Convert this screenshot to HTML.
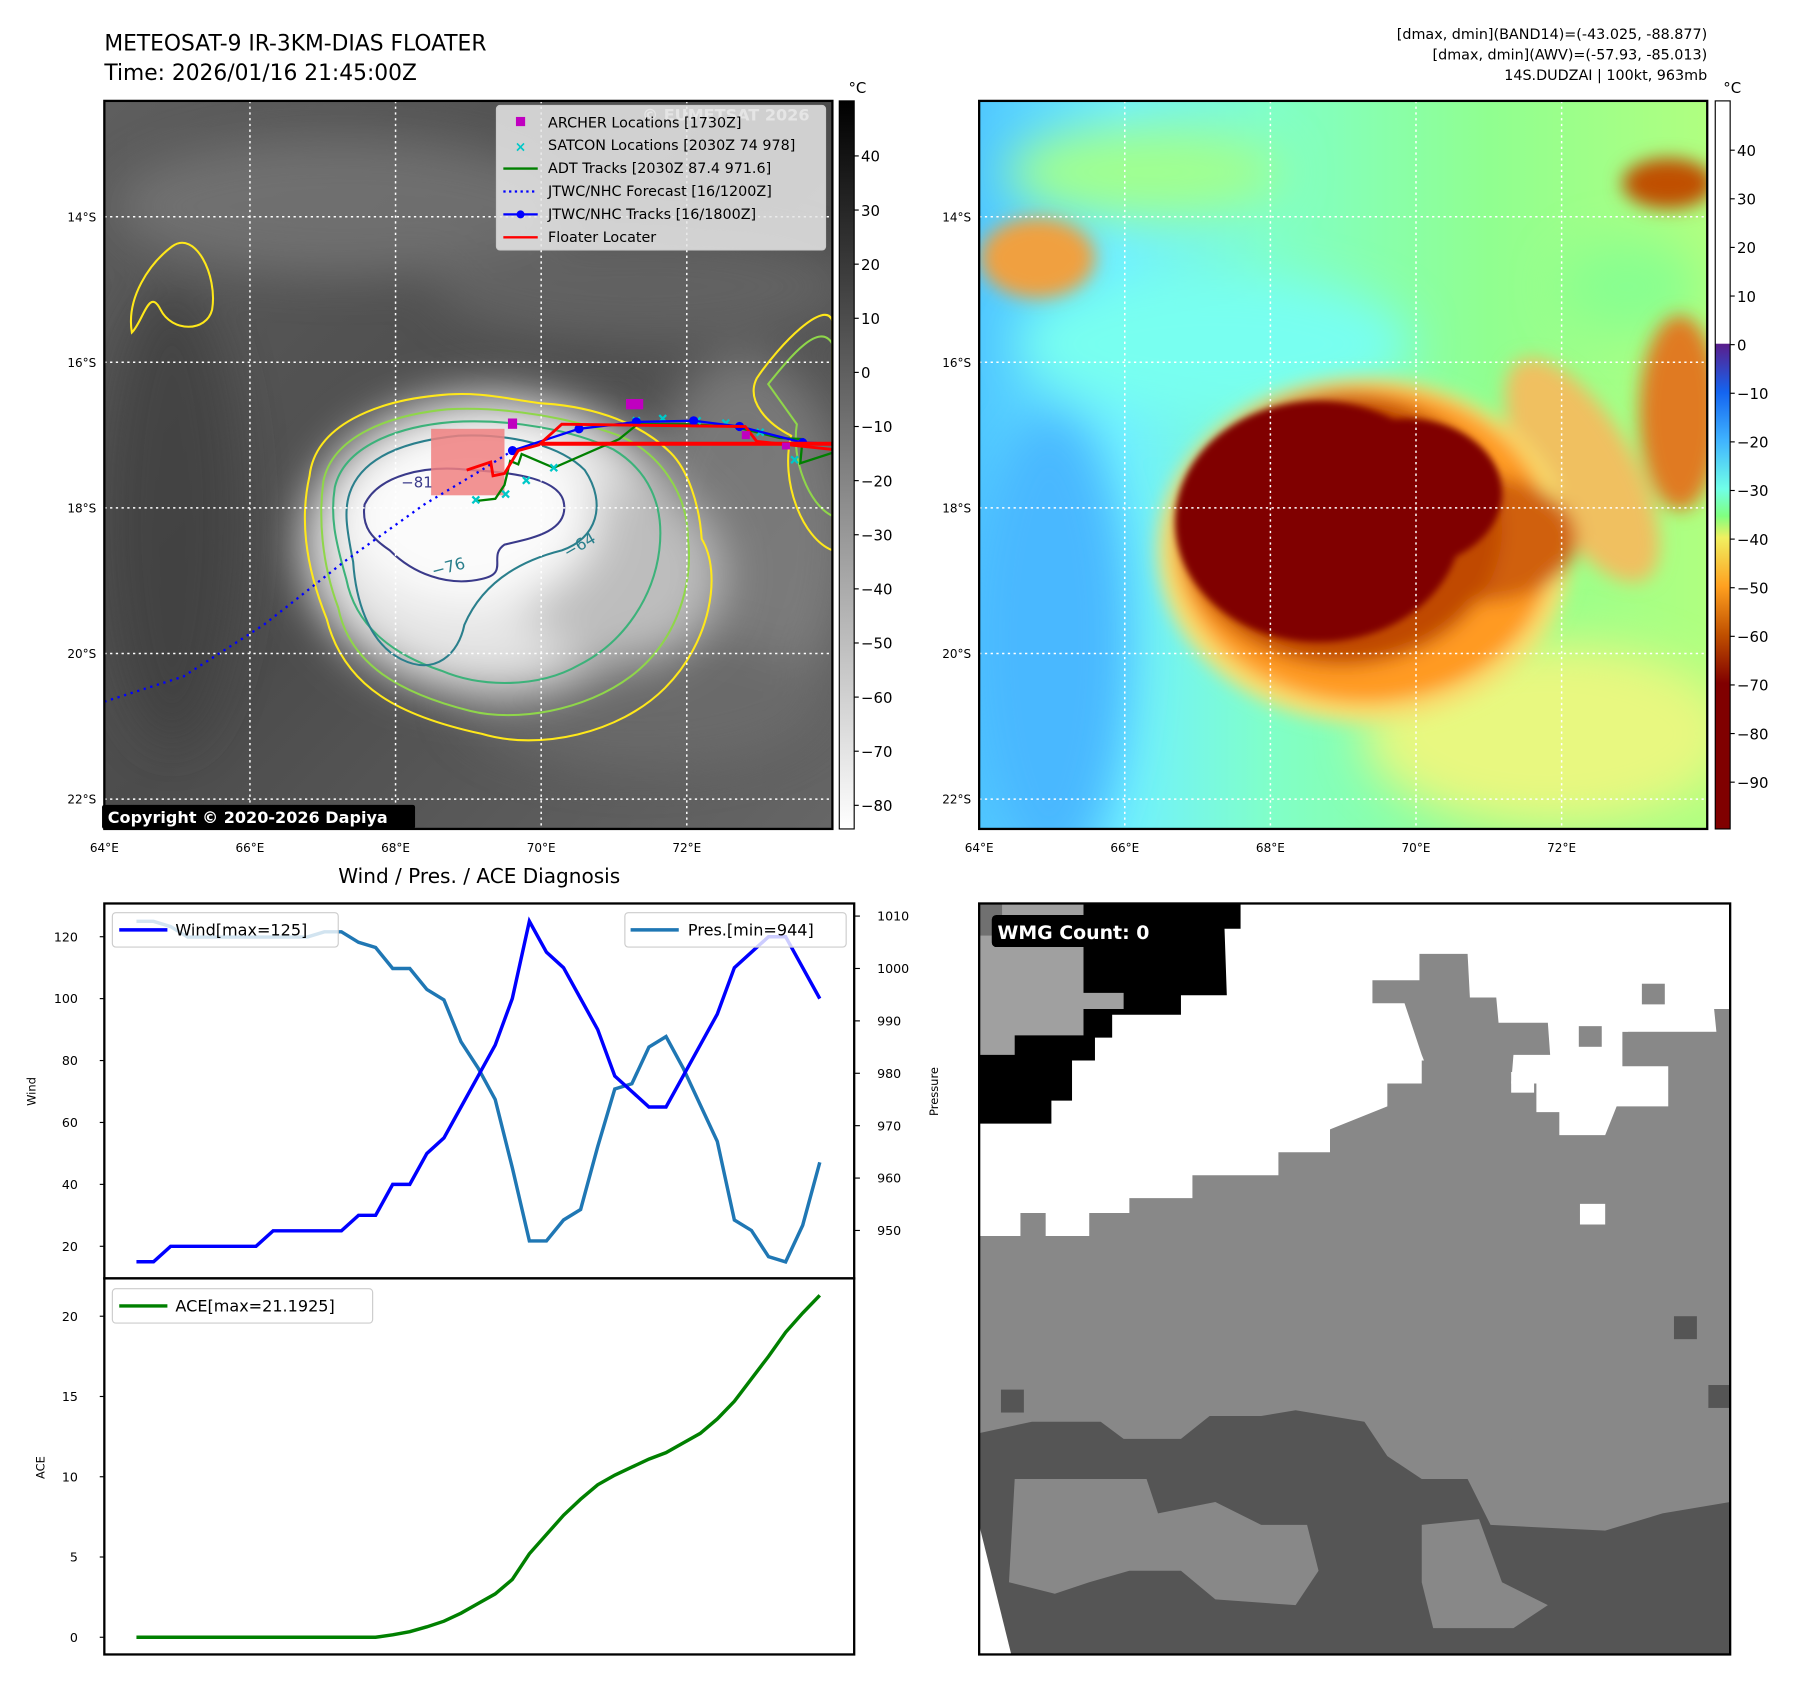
<!DOCTYPE html>
<html><head><meta charset="utf-8"><style>
html,body{margin:0;padding:0;background:#fff}
svg{display:block}
text{font-family:"DejaVu Sans","Liberation Sans",sans-serif;fill:#000}
</style></head><body>
<svg id="root" width="1797" height="1690" viewBox="0 0 1567.3 1474" preserveAspectRatio="none" xmlns="http://www.w3.org/2000/svg">
<defs>
<filter id="b8" x="-50%" y="-50%" width="200%" height="200%"><feGaussianBlur stdDeviation="8"/></filter>
<filter id="b20" x="-50%" y="-50%" width="200%" height="200%"><feGaussianBlur stdDeviation="20"/></filter>
<filter id="b4"><feGaussianBlur stdDeviation="3"/></filter>
<clipPath id="cl"><rect x="91" y="88" width="635" height="635"/></clipPath>
<clipPath id="cr"><rect x="854" y="88" width="635" height="635"/></clipPath>
<clipPath id="cw"><rect x="854" y="788" width="655" height="655"/></clipPath>
<linearGradient id="cbL" x1="0" y1="0" x2="0" y2="1"><stop offset="0" stop-color="#000"/><stop offset="1" stop-color="#fff"/></linearGradient>
<linearGradient id="cbR" x1="0" y1="0" x2="0" y2="1">
<stop offset="0" stop-color="#fff"/><stop offset="0.333" stop-color="#fff"/>
<stop offset="0.334" stop-color="#5a1e8c"/><stop offset="0.40" stop-color="#1464f0"/>
<stop offset="0.467" stop-color="#40b4ff"/><stop offset="0.533" stop-color="#70ffe8"/>
<stop offset="0.57" stop-color="#80ff80"/><stop offset="0.60" stop-color="#f0f060"/>
<stop offset="0.667" stop-color="#ffa020"/><stop offset="0.733" stop-color="#c05000"/>
<stop offset="0.80" stop-color="#800000"/><stop offset="1" stop-color="#800000"/></linearGradient>
<linearGradient id="irbg" x1="0" y1="0" x2="1" y2="1"><stop offset="0" stop-color="#5e5e5e"/><stop offset="0.5" stop-color="#4c4c4c"/><stop offset="1" stop-color="#666"/></linearGradient>
<linearGradient id="rbg" x1="0" y1="0" x2="1" y2="0"><stop offset="0" stop-color="#50c8ff"/><stop offset="0.2" stop-color="#70f0ff"/><stop offset="0.4" stop-color="#80ffc8"/><stop offset="0.7" stop-color="#90ff90"/><stop offset="1" stop-color="#b0ff80"/></linearGradient>
</defs>

<text x="91" y="44" font-size="19">METEOSAT-9 IR-3KM-DIAS FLOATER</text>
<text x="91" y="70" font-size="19">Time: 2026/01/16 21:45:00Z</text>
<g font-size="12.5" text-anchor="end">
<text x="1489" y="34">[dmax, dmin](BAND14)=(-43.025, -88.877)</text>
<text x="1489" y="52">[dmax, dmin](AWV)=(-57.93, -85.013)</text>
<text x="1489" y="70">14S.DUDZAI | 100kt, 963mb</text>
</g>

<g clip-path="url(#cl)">
<rect x="91" y="88" width="635" height="635" fill="url(#irbg)"/>
<g filter="url(#b20)" opacity="0.7">
<ellipse cx="300" cy="180" rx="200" ry="60" fill="#7a7a7a"/>
<ellipse cx="560" cy="250" rx="180" ry="50" fill="#6a6a6a"/>
<ellipse cx="650" cy="470" rx="90" ry="160" fill="#888"/>
<ellipse cx="150" cy="450" rx="60" ry="200" fill="#3e3e3e"/>
<ellipse cx="560" cy="610" rx="160" ry="60" fill="#707070"/>
</g>
<g filter="url(#b20)">
<ellipse cx="430" cy="475" rx="165" ry="130" fill="#e4e4e4"/>
<ellipse cx="540" cy="500" rx="90" ry="80" fill="#bdbdbd"/>
<ellipse cx="410" cy="450" rx="110" ry="80" fill="#fbfbfb"/>
</g>
<g fill="none" stroke-width="1.8">
<path d="M270,415 C275,370 330,350 380,345 C420,340 450,350 475,352 C520,355 560,370 585,395 C600,410 610,440 612,470 C630,500 620,560 580,600 C540,640 470,655 420,640 C350,625 300,600 285,540 C265,490 262,450 270,415 Z" stroke="#ffe81a"/>
<path d="M282,420 C290,380 340,362 390,357 C440,354 500,365 540,380 C575,395 600,430 600,470 C605,510 590,560 550,590 C510,620 450,630 410,620 C350,605 305,580 295,530 C280,490 278,450 282,420 Z" stroke="#8fd64a"/>
<path d="M292,425 C300,390 345,372 395,368 C445,365 500,375 535,392 C565,410 580,440 575,480 C570,520 545,560 505,580 C470,600 420,600 385,585 C340,570 310,545 302,505 C292,470 288,450 292,425 Z" stroke="#3cb27a"/>
<path d="M305,430 C315,400 350,385 400,380 C450,378 490,390 510,410 C530,440 520,470 490,480 C450,490 420,510 405,545 C400,570 380,590 350,575 C320,560 310,520 308,490 C302,460 300,445 305,430 Z" stroke="#2a7f8c"/>
<path d="M318,440 C330,415 370,405 410,410 C450,412 490,418 492,440 C495,465 460,470 440,475 C425,485 445,500 420,505 C390,512 360,500 340,480 C325,470 315,460 318,440 Z" stroke="#3a3a8a"/>
<path d="M115,290 C110,260 130,230 150,215 C170,200 190,240 185,270 C180,290 150,290 140,270 C130,250 125,280 115,290 Z" stroke="#ffe81a"/>
<path d="M660,330 C680,300 720,260 726,280 L726,480 C700,470 680,420 690,380 C670,370 650,350 660,330 Z" stroke="#ffe81a"/>
<path d="M670,335 C690,310 715,280 726,300 L726,450 C705,440 690,400 695,370 Z" stroke="#8fd64a"/>
</g>
<g stroke="#fff" stroke-width="1.3" stroke-dasharray="2,3" fill="none">
<line x1="218" y1="88" x2="218" y2="723"/><line x1="345" y1="88" x2="345" y2="723"/><line x1="472" y1="88" x2="472" y2="723"/><line x1="599" y1="88" x2="599" y2="723"/>
<line x1="91" y1="189" x2="726" y2="189"/><line x1="91" y1="316" x2="726" y2="316"/><line x1="91" y1="443" x2="726" y2="443"/><line x1="91" y1="570" x2="726" y2="570"/><line x1="91" y1="697" x2="726" y2="697"/>
</g>
<rect x="376" y="374" width="64" height="58" fill="#f08080" opacity="0.85"/>
<polyline points="91,612 160,590 230,545 300,490 370,440 420,410 447,393" fill="none" stroke="#0000ff" stroke-width="2" stroke-dasharray="2,4"/>
<polyline points="415,437 432,435 440,423 445,402 452,405 455,396 483,408 540,383 556,370 600,370 640,372 680,382 700,383 698,404 726,395" fill="none" stroke="#008000" stroke-width="2"/>
<g fill="none" stroke="#00c8c8" stroke-width="2">
<path d="M412,433l6,6m0,-6l-6,6M438,428l6,6m0,-6l-6,6M456,416l6,6m0,-6l-6,6M480,405l6,6m0,-6l-6,6M552,364l6,6m0,-6l-6,6M575,362l6,6m0,-6l-6,6M605,364l6,6m0,-6l-6,6M630,366l6,6m0,-6l-6,6M660,374l6,6m0,-6l-6,6M690,398l6,6m0,-6l-6,6"/>
</g>
<polyline points="447,393 505,374 555,368 605,367 645,372 700,386 726,387" fill="none" stroke="#0000ff" stroke-width="2"/>
<g fill="#0000ff"><circle cx="447" cy="393" r="4"/><circle cx="505" cy="374" r="4"/><circle cx="555" cy="368" r="4"/><circle cx="605" cy="367" r="4"/><circle cx="645" cy="372" r="4"/><circle cx="700" cy="386" r="4"/></g>
<polyline points="407,410 428,403 430,415 440,413 452,393 470,388 490,370 650,372 660,385 726,392" fill="none" stroke="#ff0000" stroke-width="2.5"/>
<line x1="472" y1="387" x2="726" y2="387" stroke="#ff0000" stroke-width="3.5"/>
<g fill="#c000c0"><rect x="443" y="365" width="8" height="9"/><rect x="546" y="348" width="15" height="9"/><rect x="647" y="376" width="7" height="7"/><rect x="682" y="386" width="7" height="6"/></g>
<text x="350" y="425" font-size="13" style="fill:#3a3a8a">−81</text>
<text x="378" y="503" font-size="14" style="fill:#2a7f8c" transform="rotate(-15 378 503)">−76</text>
<text x="495" y="487" font-size="14" style="fill:#2a7f8c" transform="rotate(-30 495 487)">−64</text>
<text x="560" y="105" font-size="14" font-weight="bold" style="fill:#d8d8d8">© EUMETSAT 2026</text>
</g>
<rect x="91" y="88" width="635" height="635" fill="none" stroke="#000" stroke-width="2"/>
<g>
<rect x="433" y="92" width="287" height="126" rx="3" fill="#e8e8e8" fill-opacity="0.85" stroke="#ccc"/>
<rect x="450" y="102" width="8" height="8" fill="#c000c0"/>
<text x="449" y="132" font-size="12" style="fill:#00c8c8" font-weight="bold">×</text>
<line x1="439" y1="147" x2="469" y2="147" stroke="#008000" stroke-width="2"/>
<line x1="439" y1="167" x2="469" y2="167" stroke="#0000ff" stroke-width="2" stroke-dasharray="2,3"/>
<line x1="439" y1="187" x2="469" y2="187" stroke="#0000ff" stroke-width="2"/><circle cx="454" cy="187" r="3.5" fill="#0000ff"/>
<line x1="439" y1="207" x2="469" y2="207" stroke="#ff0000" stroke-width="2"/>
<g font-size="12.5"><text x="478" y="111">ARCHER Locations [1730Z]</text><text x="478" y="131">SATCON Locations [2030Z 74 978]</text><text x="478" y="151">ADT Tracks [2030Z 87.4 971.6]</text><text x="478" y="171">JTWC/NHC Forecast [16/1200Z]</text><text x="478" y="191">JTWC/NHC Tracks [16/1800Z]</text><text x="478" y="211">Floater Locater</text></g>
</g>
<rect x="89" y="702" width="273" height="21" rx="2" fill="#000"/>
<text x="94" y="718" font-size="14" font-weight="bold" style="fill:#fff">Copyright © 2020-2026 Dapiya</text>

<g>
<rect x="732" y="88" width="13" height="635" fill="url(#cbL)" stroke="#000" stroke-width="1"/>
<text x="740" y="81" font-size="13">°C</text>
<g font-size="13" id="cbLticks"></g>
</g>

<g clip-path="url(#cr)">
<rect x="854" y="88" width="635" height="635" fill="url(#rbg)"/>
<g filter="url(#b20)">
<ellipse cx="915" cy="560" rx="70" ry="200" fill="#48b8ff"/>
<ellipse cx="1060" cy="300" rx="170" ry="60" fill="#78fff0"/>
<ellipse cx="1350" cy="640" rx="160" ry="80" fill="#e8f880"/>
<ellipse cx="1420" cy="250" rx="60" ry="40" fill="#88ff90"/>
<ellipse cx="1000" cy="150" rx="120" ry="40" fill="#a0ff90"/>
</g>
<g filter="url(#b8)">
<ellipse cx="905" cy="225" rx="50" ry="35" fill="#f0a040"/>
<ellipse cx="1455" cy="160" rx="40" ry="22" fill="#c05000"/>
<ellipse cx="1465" cy="360" rx="35" ry="85" fill="#e07a20"/>
<ellipse cx="1380" cy="410" rx="45" ry="110" fill="#f0c060" transform="rotate(-30 1380 410)"/>
<ellipse cx="1190" cy="480" rx="180" ry="150" fill="#f8e070"/>
<ellipse cx="1190" cy="475" rx="165" ry="138" fill="#ff9a20"/>
<ellipse cx="1290" cy="470" rx="85" ry="55" fill="#d06010"/>
<ellipse cx="1170" cy="462" rx="140" ry="118" fill="#c04a00"/>
</g>
<g filter="url(#b4)">
<ellipse cx="1150" cy="455" rx="125" ry="105" fill="#800000"/>
<ellipse cx="1225" cy="430" rx="85" ry="65" fill="#800000"/>
</g>
<g stroke="#fff" stroke-width="1.3" stroke-dasharray="2,3" fill="none">
<line x1="981" y1="88" x2="981" y2="723"/><line x1="1108" y1="88" x2="1108" y2="723"/><line x1="1235" y1="88" x2="1235" y2="723"/><line x1="1362" y1="88" x2="1362" y2="723"/>
<line x1="854" y1="189" x2="1489" y2="189"/><line x1="854" y1="316" x2="1489" y2="316"/><line x1="854" y1="443" x2="1489" y2="443"/><line x1="854" y1="570" x2="1489" y2="570"/><line x1="854" y1="697" x2="1489" y2="697"/>
</g>
</g>
<rect x="854" y="88" width="635" height="635" fill="none" stroke="#000" stroke-width="2"/>
<g>
<rect x="1496" y="88" width="13" height="635" fill="url(#cbR)" stroke="#000" stroke-width="1"/>
<text x="1503" y="81" font-size="13">°C</text>
<g font-size="13" id="cbRticks"></g>
</g>

<g font-size="10.5" id="mapLabels"></g>

<text x="418" y="770" font-size="17.5" text-anchor="middle">Wind / Pres. / ACE Diagnosis</text>

<g id="windChart">
<rect x="91" y="788" width="654" height="327" fill="#fff"/>
</g>
<g id="aceChart">
<rect x="91" y="1115" width="654" height="328" fill="#fff"/>
</g>

<g clip-path="url(#cw)">
<rect x="854" y="788" width="655" height="655" fill="#888"/>
<path d="M854,788 L1509,788 L1509,880 L1495,880 L1497,900 L1420,900 L1418,915 L1455,915 L1455,965 L1410,965 L1400,990 L1360,990 L1360,970 L1340,970 L1340,945 L1310,945 L1310,925 L1240,925 L1240,945 L1210,945 L1210,965 L1160,985 L1160,1005 L1115,1005 L1115,1025 L1040,1025 L1040,1045 L985,1045 L985,1058 L950,1058 L950,1078 L912,1078 L912,1058 L890,1058 L890,1078 L854,1078 Z" fill="#fff"/>
<path d="M1197,855 L1238,855 L1238,832 L1280,832 L1282,870 L1305,870 L1307,892 L1350,892 L1352,920 L1320,920 L1318,945 L1250,945 L1240,920 L1225,875 L1197,875 Z" fill="#888"/>
<path d="M1415,900 L1509,900 L1509,930 L1415,930 Z" fill="#888"/>
<rect x="1377" y="895" width="20" height="18" fill="#888"/><rect x="1432" y="858" width="20" height="18" fill="#888"/>
<rect x="1318" y="935" width="20" height="18" fill="#fff"/><rect x="1378" y="1050" width="22" height="18" fill="#fff"/>
<path d="M854,788 L1082,788 L1082,810 L1068,810 L1070,868 L1030,868 L1030,885 L970,885 L970,905 L955,905 L955,925 L935,925 L935,960 L917,960 L917,980 L854,980 Z" fill="#000"/>
<path d="M854,788 L945,788 L945,866 L980,866 L980,880 L945,880 L945,903 L885,903 L885,920 L854,920 Z" fill="#a0a0a0"/>
<rect x="854" y="788" width="20" height="28" fill="#707070"/>
<path d="M854,1250 L900,1240 L960,1240 L980,1255 L1030,1255 L1055,1235 L1100,1235 L1130,1230 L1190,1240 L1210,1270 L1240,1290 L1280,1290 L1300,1330 L1400,1335 L1450,1320 L1509,1310 L1509,1443 L880,1443 L854,1340 Z" fill="#555"/>
<path d="M885,1290 L1000,1290 L1010,1320 L1060,1310 L1100,1330 L1140,1330 L1150,1370 L1130,1400 L1060,1395 L1030,1370 L985,1370 L950,1380 L920,1390 L880,1380 Z" fill="#888"/>
<path d="M1240,1330 L1290,1325 L1310,1380 L1350,1400 L1320,1420 L1250,1420 L1240,1380 Z" fill="#888"/>
<path d="M1300,1250 L1400,1280 L1440,1300 L1400,1320 L1320,1320 Z" fill="#888"/>
<rect x="1460" y="1148" width="20" height="20" fill="#555"/><rect x="1490" y="1208" width="19" height="20" fill="#555"/><rect x="873" y="1212" width="20" height="20" fill="#555"/>
<path d="M854,1330 L882,1443 L854,1443 Z" fill="#fff"/>
</g>
<rect x="854" y="788" width="655" height="655" fill="none" stroke="#000" stroke-width="2"/>
<rect x="865" y="798" width="155" height="28" rx="4" fill="#000"/>
<text x="870" y="819" font-size="16.5" font-weight="bold" style="fill:#fff">WMG Count: 0</text>

<script>
var windVals=[15,15,20,20,20,20,20,20,25,25,25,25,25,30,30,40,40,50,55,65,75,85,100,125,115,110,100,90,75,70,65,65,75,85,95,110,115,120,120,110,100];
var presVals=[1009,1009,1008,1006,1006,1006,1006,1006,1006,1006,1006,1007,1007,1005,1004,1000,1000,996,994,986,981,975,962,948,948,952,954,966,977,978,985,987,981,974,967,952,950,945,944,951,963];
var aceVals=[0,0,0,0,0,0,0,0,0,0,0,0,0,0,0,0.15,0.35,0.65,1.0,1.5,2.1,2.7,3.6,5.2,6.4,7.6,8.6,9.5,10.1,10.6,11.1,11.5,12.1,12.7,13.6,14.7,16.1,17.5,19.0,20.2,21.3];
var windTicks=[20,40,60,80,100,120];
var presTicks=[950,960,970,980,990,1000,1010];
var aceTicks=[0,5,10,15,20];
var irTicks=[40,30,20,10,0,-10,-20,-30,-40,-50,-60,-70,-80];
var awvTicks=[40,30,20,10,0,-10,-20,-30,-40,-50,-60,-70,-80,-90];
var latLabels=["14°S","16°S","18°S","20°S","22°S"];
var lonLabels=["64°E","66°E","68°E","70°E","72°E"];

var NS="http://www.w3.org/2000/svg";
function mk(tag,attrs,parent,txt){var e=document.createElementNS(NS,tag);for(var k in attrs)e.setAttribute(k,attrs[k]);if(txt!==undefined)e.textContent=txt;parent.appendChild(e);return e;}
function xAt(i){return 119+i*(715-119)/(windVals.length-1);}
function yWind(v){return 1087-(v-20)*2.7;}
function yPres(p){return 799+(1010-p)*4.57;}
function yAce(v){return 1428-v*14;}
function yIR(v){return 136+(40-v)*4.72;}
function yAWV(v){return 131+(40-v)*4.24;}
function neg(v){return v<0?"\u2212"+Math.abs(v):String(v);}

var cbL=document.getElementById('cbLticks');
irTicks.forEach(function(v){var y=yIR(v);mk('line',{x1:745,y1:y,x2:749,y2:y,stroke:'#000'},cbL);var t=mk('text',{x:751,y:y+5},cbL,neg(v));

});
var cbR=document.getElementById('cbRticks');
awvTicks.forEach(function(v){var y=yAWV(v);mk('line',{x1:1509,y1:y,x2:1513,y2:y,stroke:'#000'},cbR);var t=mk('text',{x:1515,y:y+5},cbR,neg(v));

});

var ml=document.getElementById('mapLabels');
latLabels.forEach(function(s,i){var y=189+i*127;[84,847].forEach(function(x){var t=mk('text',{x:x,y:y+4,'text-anchor':'end'},ml,s);

});});
lonLabels.forEach(function(s,i){var x=91+i*127;[0,763].forEach(function(o){var t=mk('text',{x:x+o,y:743,'text-anchor':'middle'},ml,s);

});});

var wc=document.getElementById('windChart');
windTicks.forEach(function(v){var y=yWind(v);mk('line',{x1:87,y1:y,x2:91,y2:y,stroke:'#000'},wc);var t=mk('text',{x:68,y:y+4,'font-size':11,'text-anchor':'end'},wc,String(v));

});
presTicks.forEach(function(v){var y=yPres(v);if(y<788||y>1115)return;mk('line',{x1:745,y1:y,x2:750,y2:y,stroke:'#000'},wc);var t=mk('text',{x:765,y:y+4,'font-size':11},wc,String(v));

});
var pp=presVals.map(function(v,i){return xAt(i)+','+yPres(v);}).join(' ');
var pl=mk('polyline',{points:pp,fill:'none',stroke:'#1f77b4','stroke-width':3},wc);


var wp=windVals.map(function(v,i){return xAt(i)+','+yWind(v);}).join(' ');
var wl=mk('polyline',{points:wp,fill:'none',stroke:'#0000ff','stroke-width':3},wc);


var lg1=mk('g',{},wc);


mk('rect',{x:98,y:796,width:197,height:30,rx:3,fill:'#fff','fill-opacity':0.8,stroke:'#ccc'},lg1);
mk('line',{x1:104,y1:811,x2:146,y2:811,stroke:'#0000ff','stroke-width':3},lg1);
mk('text',{x:153,y:816,'font-size':14},lg1,'Wind[max=125]');
var lg2=mk('g',{},wc);


mk('rect',{x:545,y:796,width:193,height:30,rx:3,fill:'#fff','fill-opacity':0.8,stroke:'#ccc'},lg2);
mk('line',{x1:550,y1:811,x2:592,y2:811,stroke:'#1f77b4','stroke-width':3},lg2);
mk('text',{x:600,y:816,'font-size':14},lg2,'Pres.[min=944]');
mk('rect',{x:91,y:788,width:654,height:327,fill:'none',stroke:'#000','stroke-width':2},wc);
mk('text',{x:31,y:952,'font-size':10,'text-anchor':'middle',transform:'rotate(-90 31 952)'},wc,'Wind');
mk('text',{x:818,y:952,'font-size':10,'text-anchor':'middle',transform:'rotate(-90 818 952)'},wc,'Pressure');

var ac=document.getElementById('aceChart');
aceTicks.forEach(function(v){var y=yAce(v);mk('line',{x1:87,y1:y,x2:91,y2:y,stroke:'#000'},ac);var t=mk('text',{x:68,y:y+4,'font-size':11,'text-anchor':'end'},ac,String(v));

});
var ap=aceVals.map(function(v,i){return xAt(i)+','+yAce(v);}).join(' ');
var al=mk('polyline',{points:ap,fill:'none',stroke:'#008000','stroke-width':3},ac);


var lg3=mk('g',{},ac);


mk('rect',{x:98,y:1124,width:227,height:30,rx:3,fill:'#fff','fill-opacity':0.8,stroke:'#ccc'},lg3);
mk('line',{x1:104,y1:1139,x2:146,y2:1139,stroke:'#008000','stroke-width':3},lg3);
mk('text',{x:153,y:1144,'font-size':14},lg3,'ACE[max=21.1925]');
mk('rect',{x:91,y:1115,width:654,height:328,fill:'none',stroke:'#000','stroke-width':2},ac);
mk('text',{x:39,y:1280,'font-size':10,'text-anchor':'middle',transform:'rotate(-90 39 1280)'},ac,'ACE');
</script>
</svg>
</body></html>
